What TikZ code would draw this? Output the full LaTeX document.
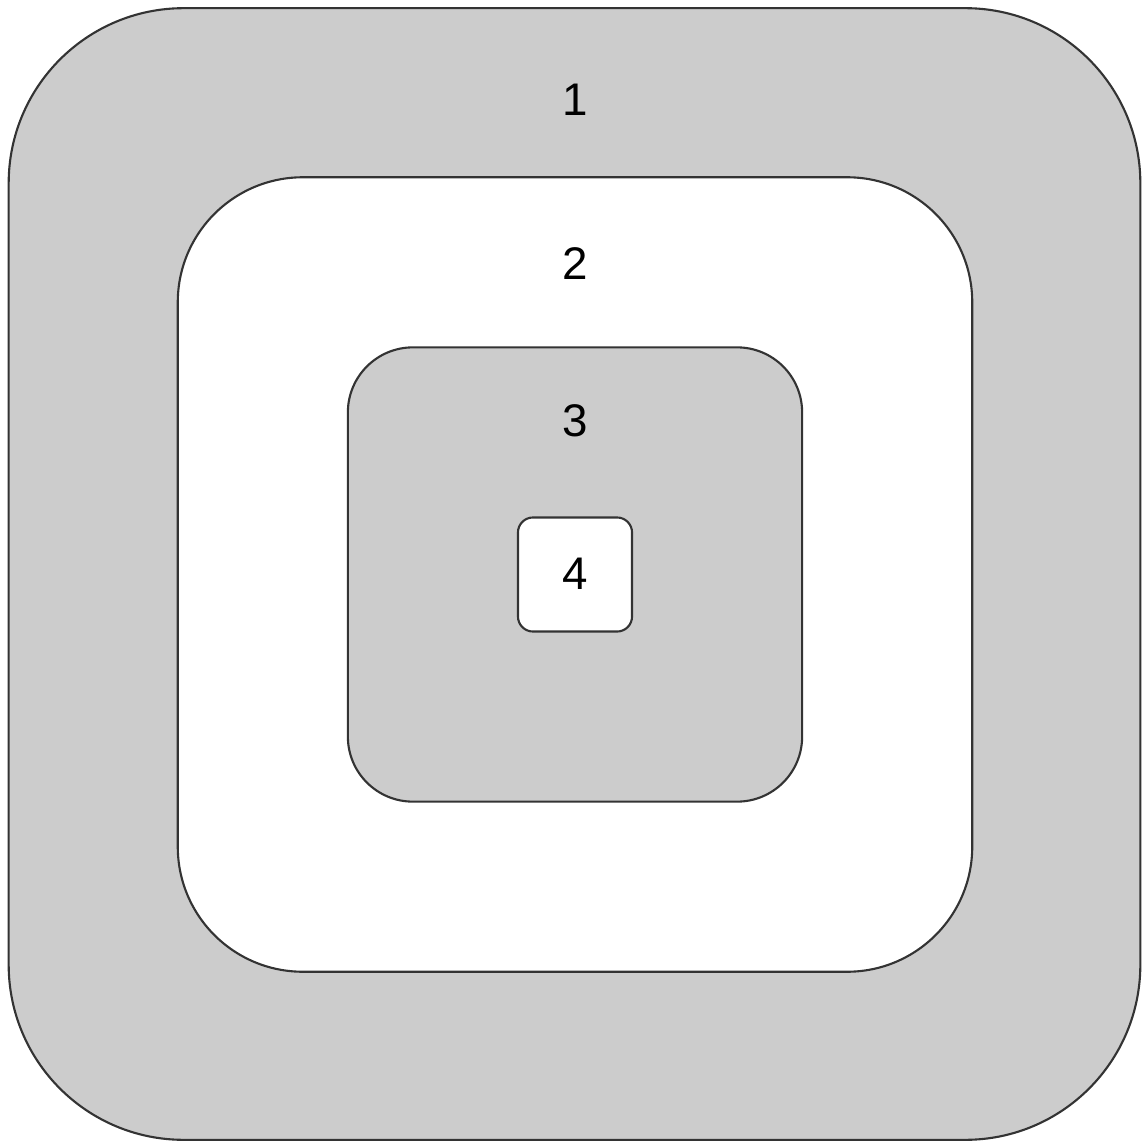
\documentclass[tikz,border=0pt]{standalone}
\usepackage{fontspec}
\setmainfont{Liberation Sans}
\usetikzlibrary{positioning}
\definecolor{ringgray}{HTML}{CCCCCC}
\definecolor{edgeline}{HTML}{333333}

\begin{document}
\begin{tikzpicture}[x=0.01cm, y=-0.01cm,
  ring/.style={rectangle, draw=edgeline, line width=0.6pt, inner sep=0pt, outer sep=0pt},
  num/.style={font=\fontsize{13}{15}\selectfont, inner sep=0pt}
]
  \useasboundingbox (0,0) rectangle (1142,1143);
  \node[ring, fill=ringgray, minimum size=11.31cm, rounded corners=1.75cm] (level1) at (574.5,574) {};
  \node[ring, fill=white, minimum size=7.94cm, rounded corners=1.25cm] (level2) at (575,574.5) {};
  \node[ring, fill=ringgray, minimum size=4.54cm, rounded corners=0.65cm] (level3) at (575,574.5) {};
  \node[ring, fill=white, minimum size=1.14cm, rounded corners=0.15cm] (level4) at (575,574.5) {};

  \node[num] (lab1) at (575,100) {1};
  \node[num] (lab2) at (575,264) {2};
  \node[num] (lab3) at (575,421) {3};
  \node[num] (lab4) at (575,574) {4};
\end{tikzpicture}
\end{document}
